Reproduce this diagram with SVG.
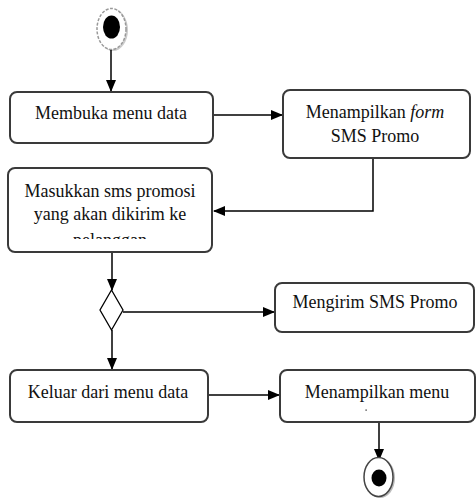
<svg xmlns="http://www.w3.org/2000/svg" width="476" height="502" viewBox="0 0 476 502">
<defs>
<style>
.box{fill:#fff;stroke:#3a3a3a;stroke-width:2}
.t{font-family:"Liberation Serif","DejaVu Serif",serif;font-size:18px;fill:#111;text-anchor:middle}
.ln{fill:none;stroke:#000;stroke-width:1.5}
</style>
<marker id="ah" markerUnits="userSpaceOnUse" markerWidth="12" markerHeight="10" refX="11" refY="5" orient="auto">
<path d="M0,0 L12,5 L0,10 Z" fill="#000"/>
</marker>
<clipPath id="c3"><rect x="8" y="168" width="204" height="71"/></clipPath>
</defs>
<rect width="476" height="502" fill="#fff"/>

<g id="start">
<ellipse cx="113" cy="30" rx="15" ry="21" fill="#ccc"/>
<ellipse cx="111.5" cy="29" rx="14.5" ry="20.5" fill="#fff" stroke="#999" stroke-width="1.5" stroke-dasharray="3,1.5"/>
<ellipse cx="111.5" cy="27" rx="8.5" ry="11.5" fill="#000"/>
</g>

<g id="connectors">
<line class="ln" x1="111" y1="50" x2="111" y2="91" marker-end="url(#ah)"/>
<line class="ln" x1="213" y1="115" x2="282" y2="115" marker-end="url(#ah)"/>
<polyline class="ln" points="373,158 373,211 214,211" marker-end="url(#ah)"/>
<line class="ln" x1="112" y1="252" x2="112" y2="290" marker-end="url(#ah)"/>
<line class="ln" x1="123" y1="312" x2="274" y2="312" marker-end="url(#ah)"/>
<line class="ln" x1="112" y1="330" x2="112" y2="369" marker-end="url(#ah)"/>
<line class="ln" x1="208" y1="395" x2="279" y2="395" marker-end="url(#ah)"/>
<line class="ln" x1="379" y1="422" x2="379" y2="460" marker-end="url(#ah)"/>
</g>

<g id="n1">
<rect class="box" x="10" y="92" width="203" height="51" rx="7"/>
<text class="t" x="111" y="119">Membuka menu data</text>
</g>

<g id="n2">
<rect class="box" x="283" y="90" width="187" height="68" rx="7"/>
<text class="t" x="375" y="118">Menampilkan <tspan font-style="italic">form</tspan></text>
<text class="t" x="375" y="142">SMS Promo</text>
</g>

<g id="n3">
<rect class="box" x="8" y="168" width="204" height="84" rx="7"/>
<text class="t" x="110" y="197">Masukkan sms promosi</text>
<text class="t" x="110" y="220">yang akan dikirim ke</text>
<text class="t" x="110" y="246" clip-path="url(#c3)">pelanggan</text>
</g>

<g id="decision">
<polygon points="111.5,290 123,310 111.5,330 100,310" fill="#fff" stroke="#000" stroke-width="1.3"/>
</g>

<g id="n4">
<rect class="box" x="275" y="283" width="199" height="49" rx="7"/>
<text class="t" x="375" y="308">Mengirim SMS Promo</text>
</g>

<g id="n5">
<rect class="box" x="10" y="370" width="198" height="52" rx="7"/>
<text class="t" x="108" y="398">Keluar dari menu data</text>
</g>

<g id="n6">
<rect class="box" x="280" y="370" width="195" height="52" rx="7"/>
<text class="t" x="377" y="398">Menampilkan menu</text>
<rect x="365.5" y="409.5" width="1.2" height="1.2" fill="#111"/>
</g>

<g id="end">
<ellipse cx="380" cy="478" rx="15" ry="20" fill="#bbb"/>
<ellipse cx="378.5" cy="477" rx="14.5" ry="19.5" fill="#fff" stroke="#444" stroke-width="1.5"/>
<ellipse cx="379" cy="478" rx="7.5" ry="8.5" fill="#000"/>
</g>
</svg>
